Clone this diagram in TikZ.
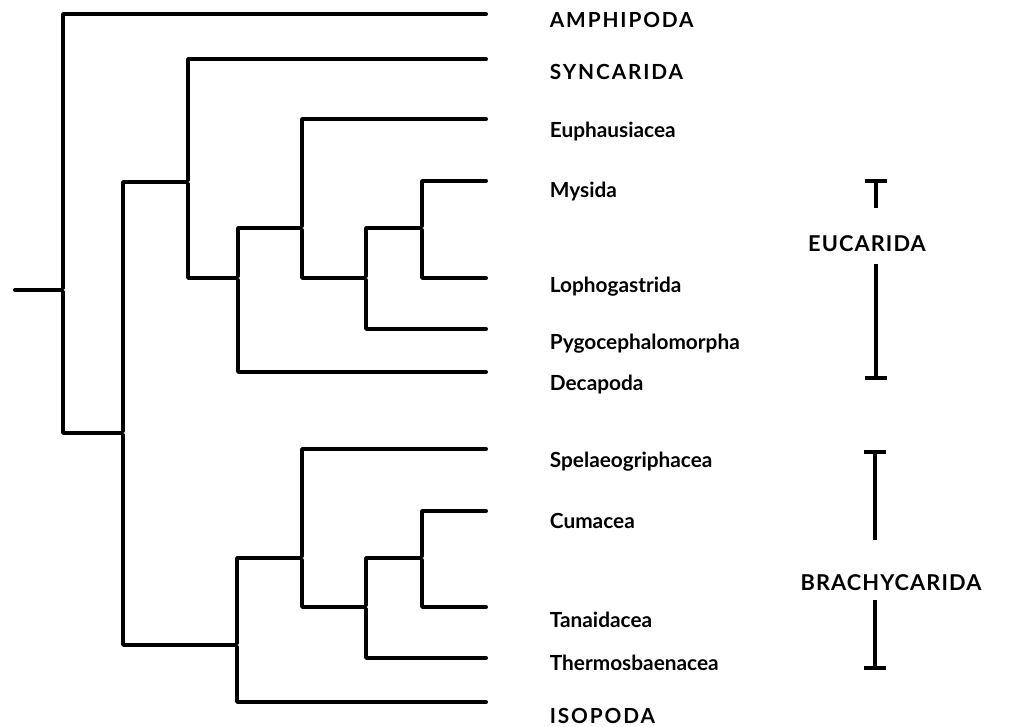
\documentclass[tikz,border=0pt]{standalone}
\usepackage{fontspec}
\setmainfont{Lato}
\usetikzlibrary{arrows.meta}

\begin{document}
\begin{tikzpicture}[-,x=0.025cm,y=-0.025cm,line width=2.7pt,line cap=round,line join=round]
\tikzstyle{fork}=[inner sep=0pt,minimum size=0pt]
\tikzstyle{branch}=[to path={|- (\tikztotarget)}]
\tikzstyle{taxon}=[anchor=base west,inner sep=0pt,font=\bfseries\fontsize{14.8}{17}\selectfont]
\tikzstyle{order}=[taxon,font=\bfseries\fontsize{14.8}{17}\selectfont\addfontfeatures{LetterSpace=9}]
\tikzstyle{group}=[anchor=base,inner sep=0pt,font=\bfseries\fontsize{15.5}{18}\selectfont\addfontfeatures{LetterSpace=5}]
\tikzstyle{grpbar}=[line width=3.2pt,line cap=butt]

\useasboundingbox (0,0) rectangle (1032,727);

% forks of the tree
\node [fork] (stem) at (13,290) {};
\node [fork] (0) at (63,290) {};
\node [fork] (1) at (123,433) {};
\node [fork] (2) at (188,182) {};
\node [fork] (3) at (238,278) {};
\node [fork] (4) at (302,228) {};
\node [fork] (5) at (366,278) {};
\node [fork] (6) at (422,228) {};
\node [fork] (7) at (237,645) {};
\node [fork] (8) at (302,558) {};
\node [fork] (9) at (366,607) {};
\node [fork] (10) at (422,558) {};

% tips of the tree
\node [fork] (amph) at (488,14) {};
\node [fork] (sync) at (488,59) {};
\node [fork] (euph) at (488,119) {};
\node [fork] (mysi) at (488,181) {};
\node [fork] (loph) at (488,278) {};
\node [fork] (pygo) at (488,329) {};
\node [fork] (deca) at (488,372) {};
\node [fork] (spel) at (488,449) {};
\node [fork] (cuma) at (488,511) {};
\node [fork] (tana) at (488,607) {};
\node [fork] (ther) at (488,658) {};
\node [fork] (isop) at (488,702) {};

\node [order] (amphL) at (548,28) {AMPHIPODA};
\node [order] (syncL) at (548,80) {SYNCARIDA};
\node [taxon] (euphL) at (548,138) {Euphausiacea};
\node [taxon] (mysiL) at (548,198) {Mysida};
\node [taxon] (lophL) at (548,293) {Lophogastrida};
\node [taxon] (pygoL) at (548,350) {Pygocephalomorpha};
\node [taxon] (decaL) at (548,391) {Decapoda};
\node [taxon] (spelL) at (548,467) {Spelaeogriphacea};
\node [taxon] (cumaL) at (548,528) {Cumacea};
\node [taxon] (tanaL) at (548,627) {Tanaidacea};
\node [taxon] (therL) at (548,670) {Thermosbaenacea};
\node [order] (isopL) at (548,723) {ISOPODA};

\path (stem) edge (0);
\path (0) edge[branch] (amph);
\path (0) edge[branch] (1);
\path (1) edge[branch] (2);
\path (1) edge[branch] (7);
\path (2) edge[branch] (sync);
\path (2) edge[branch] (3);
\path (3) edge[branch] (4);
\path (3) edge[branch] (deca);
\path (4) edge[branch] (euph);
\path (4) edge[branch] (5);
\path (5) edge[branch] (6);
\path (5) edge[branch] (pygo);
\path (6) edge[branch] (mysi);
\path (6) edge[branch] (loph);
\path (7) edge[branch] (8);
\path (7) edge[branch] (isop);
\path (8) edge[branch] (spel);
\path (8) edge[branch] (9);
\path (9) edge[branch] (10);
\path (9) edge[branch] (ther);
\path (10) edge[branch] (cuma);
\path (10) edge[branch] (tana);

% group brackets
\node [fork] (eucTop) at (876,177) {};
\node [fork] (eucUp) at (876,210) {};
\node [group] (euc) at (867,252) {EUCARIDA};
\node [fork] (eucLow) at (876,262) {};
\node [fork] (eucBot) at (876,382) {};
\node [fork] (braTop) at (875,448) {};
\node [fork] (braUp) at (875,542) {};
\node [group] (bra) at (891,590) {BRACHYCARIDA};
\node [fork] (braLow) at (875,598) {};
\node [fork] (braBot) at (875,672) {};

\path (eucTop) edge[grpbar,{Bar[width=5.5mm]}-] (eucUp);
\path (eucLow) edge[grpbar,-{Bar[width=5.5mm]}] (eucBot);
\path (braTop) edge[grpbar,{Bar[width=5.5mm]}-] (braUp);
\path (braLow) edge[grpbar,-{Bar[width=5.5mm]}] (braBot);
\end{tikzpicture}
\end{document}
